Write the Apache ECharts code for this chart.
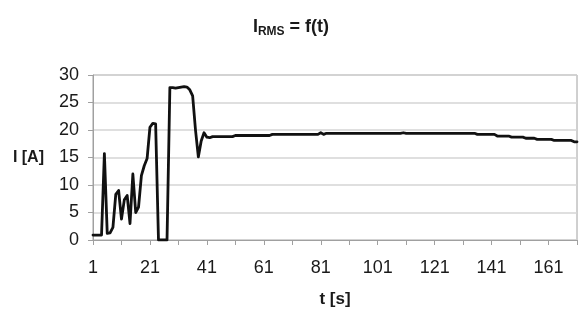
<!DOCTYPE html>
<html>
<head>
<meta charset="utf-8">
<script src="https://cdn.jsdelivr.net/npm/echarts@6/dist/echarts.min.js"></script>
<style>
  html, body { margin: 0; padding: 0; background: #fff; }
  #main { width: 582px; height: 313px; }
</style>
</head>
<body>
<div id="main"></div>
<script>
// time in seconds, 1..171
var times = [];
for (var t = 1; t <= 171; t++) times.push(String(t));

// I_RMS in A
var current = [
  0.9, 0.9, 0.9, 0.9, 15.7, 1.2, 1.3, 2.3, 8.3, 9.0,
  3.8, 7.3, 8.1, 3.0, 12.0, 5.0, 6.0, 11.7, 13.5, 14.8,
  20.5, 21.2, 21.1, 0, 0, 0, 0, 27.7, 27.7, 27.6,
  27.7, 27.8, 27.9, 27.8, 27.3, 26.2, 20.0, 15.1, 18.0, 19.5,
  18.7, 18.6, 18.8, 18.8, 18.8, 18.8, 18.8, 18.8, 18.8, 18.8,
  19.0, 19.0, 19.0, 19.0, 19.0, 19.0, 19.0, 19.0, 19.0, 19.0,
  19.0, 19.0, 19.0, 19.2, 19.2, 19.2, 19.2, 19.2, 19.2, 19.2,
  19.2, 19.2, 19.2, 19.2, 19.2, 19.2, 19.2, 19.2, 19.2, 19.2,
  19.5, 19.2, 19.4, 19.4, 19.4, 19.4, 19.4, 19.4, 19.4, 19.4,
  19.4, 19.4, 19.4, 19.4, 19.4, 19.4, 19.4, 19.4, 19.4, 19.4,
  19.4, 19.4, 19.4, 19.4, 19.4, 19.4, 19.4, 19.4, 19.4, 19.5,
  19.4, 19.4, 19.4, 19.4, 19.4, 19.4, 19.4, 19.4, 19.4, 19.4,
  19.4, 19.4, 19.4, 19.4, 19.4, 19.4, 19.4, 19.4, 19.4, 19.4,
  19.4, 19.4, 19.4, 19.4, 19.4, 19.2, 19.2, 19.2, 19.2, 19.2,
  19.2, 19.2, 18.9, 18.9, 18.9, 18.9, 18.9, 18.7, 18.7, 18.7,
  18.7, 18.7, 18.5, 18.5, 18.5, 18.5, 18.3, 18.3, 18.3, 18.3,
  18.3, 18.3, 18.1, 18.1, 18.1, 18.1, 18.1, 18.1, 18.1, 17.85,
  17.85
];

var yTicks = [0, 5, 10, 15, 20, 25, 30];

var chart = echarts.init(document.getElementById('main'));
var font = 'Liberation Sans, Arial, sans-serif';

chart.setOption({
  animation: false,
  backgroundColor: '#fff',
  title: {
    text: '{b|I}{s|RMS}{b| = f(t)}',
    left: 'center',
    top: 12,
    textStyle: {
      rich: {
        b: { fontFamily: font, fontWeight: 'bold', fontSize: 18, color: '#1a1a1a' },
        s: { fontFamily: font, fontWeight: 'bold', fontSize: 12, color: '#1a1a1a', padding: [9, 0, 0, 0] }
      }
    }
  },
  grid: {
    left: 93, right: 5, top: 75, bottom: 73,
    show: true, borderColor: '#a0a0a0', borderWidth: 1
  },
  xAxis: {
    type: 'category',
    data: times,
    boundaryGap: false,
    name: 't [s]',
    nameLocation: 'middle',
    nameGap: 51,
    nameTextStyle: { fontFamily: font, fontWeight: 'bold', fontSize: 17, color: '#1a1a1a' },
    axisLine: { lineStyle: { color: '#a0a0a0', width: 1 } },
    axisTick: { interval: 9, length: 5, lineStyle: { color: '#a0a0a0' } },
    axisLabel: { interval: 19, margin: 19, fontFamily: font, fontSize: 18, color: '#1a1a1a' },
    splitLine: { show: false }
  },
  yAxis: {
    type: 'value',
    min: yTicks[0], max: yTicks[yTicks.length - 1], interval: 5,
    name: 'I [A]',
    nameLocation: 'middle',
    nameRotate: 0,
    nameGap: 49,
    nameTextStyle: { fontFamily: font, fontWeight: 'bold', fontSize: 16, color: '#1a1a1a', align: 'right' },
    axisLine: { show: true, lineStyle: { color: '#a0a0a0', width: 1 } },
    axisTick: { show: true, length: 5, lineStyle: { color: '#a0a0a0' } },
    axisLabel: { margin: 14, fontFamily: font, fontSize: 18, color: '#1a1a1a' },
    splitLine: { lineStyle: { color: '#d4d4d4', width: 1.5 } }
  },
  series: [{
    type: 'line',
    data: current,
    showSymbol: false,
    symbol: 'none',
    lineStyle: { color: '#111', width: 2.8, join: 'round', cap: 'round' }
  }]
});
</script>
</body>
</html>
